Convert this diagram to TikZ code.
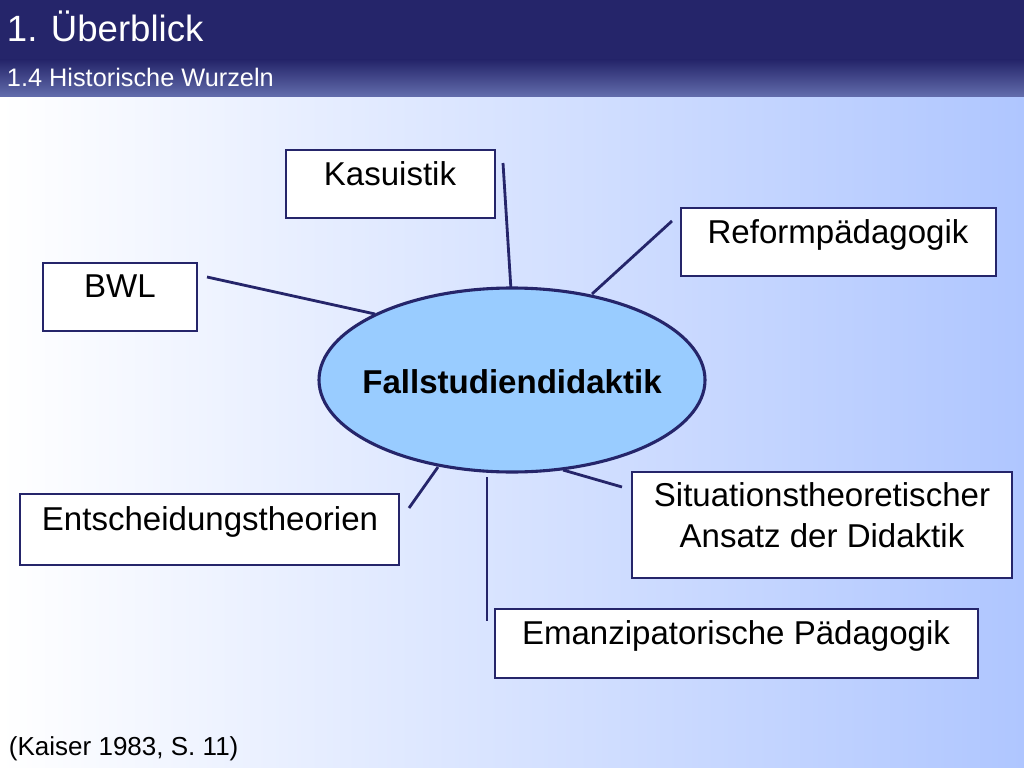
\documentclass[tikz,border=0pt]{standalone}
\usepackage{fontspec}
\setmainfont{Liberation Sans}
\definecolor{navy}{HTML}{25256A}
\definecolor{bgblue}{HTML}{AFC6FF}
\definecolor{ellblue}{HTML}{99CCFF}
\tikzset{
  rootbox/.style={draw=navy, line width=2pt, fill=white},
  rootline/.style={draw=navy, line width=2pt},
  rtext/.style={font=\fontsize{23.5}{29}\selectfont, align=center, anchor=north}
}
\begin{document}
\begin{tikzpicture}[x=0.025cm,y=-0.025cm]
\useasboundingbox (0,0) rectangle (1024,768);
% background
\shade[left color=white, right color=bgblue] (0,97) rectangle (1024,768);
\fill[navy] (0,0) rectangle (1024,60);
\shade[top color=navy, bottom color=navy!55!bgblue] (0,60) rectangle (1024,97);
\node[anchor=west, text=white, font=\fontsize{26}{30}\selectfont] (title) at (2,26) {1. Überblick};
\node[anchor=west, text=white, font=\fontsize{18}{22}\selectfont] (sub) at (2,77) {1.4 Historische Wurzeln};
% connectors (behind)
\coordinate (kas1) at (503,163); \coordinate (kas2) at (511,290);
\coordinate (ref1) at (672,221); \coordinate (ref2) at (592,294);
\coordinate (bwl1) at (207,277); \coordinate (bwl2) at (375,314);
\coordinate (ent1) at (409,508); \coordinate (ent2) at (438,467);
\coordinate (sit1) at (563,470); \coordinate (sit2) at (622,487);
\coordinate (ema1) at (487,477); \coordinate (ema2) at (487,621);
\foreach \a in {kas,ref,bwl,ent,sit,ema}
  \draw[rootline] (\a1) -- (\a2);
% centre
\draw[navy, line width=2.2pt, fill=ellblue] (512,380) ellipse [x radius=193, y radius=92];
\node[font=\bfseries\fontsize{23.5}{29}\selectfont] (fsd) at (512,382) {Fallstudiendidaktik};
% boxes
\draw[rootbox] (286,150) rectangle (495,218);
\node[rtext] (kasuistik) at (390,157) {Kasuistik};
\draw[rootbox] (681,208) rectangle (996,276);
\node[rtext] (reform) at (838,215) {Reformpädagogik};
\draw[rootbox] (43,263) rectangle (197,331);
\node[rtext] (bwl) at (120,270) {BWL};
\draw[rootbox] (20,494) rectangle (399,565);
\node[rtext] (entsch) at (210,502) {Entscheidungstheorien};
\draw[rootbox] (632,472) rectangle (1012,578);
\node[rtext] (situ) at (822,478) {Situationstheoretischer\\Ansatz der Didaktik};
\draw[rootbox] (495,609) rectangle (978,678);
\node[rtext] (emanz) at (736,616) {Emanzipatorische Pädagogik};
% source
\node[anchor=west, font=\fontsize{18.5}{22}\selectfont] (quelle) at (4,749) {(Kaiser 1983, S. 11)};
\end{tikzpicture}
\end{document}
